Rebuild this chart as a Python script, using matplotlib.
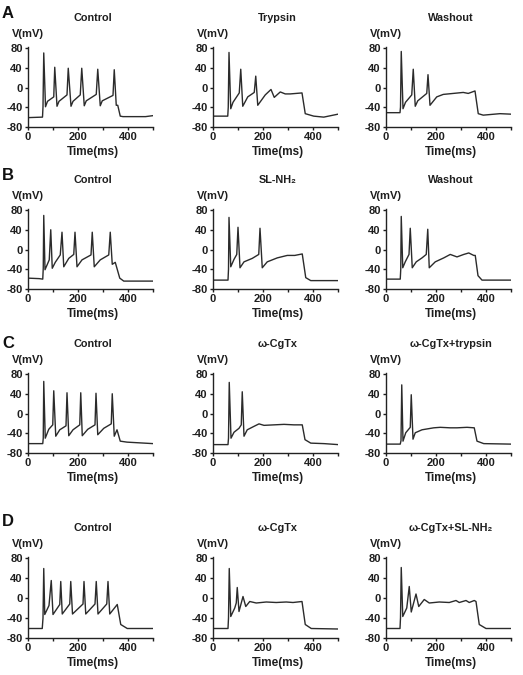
import matplotlib
matplotlib.use("Agg")
import matplotlib.pyplot as plt

plt.rcParams['font.family'] = ['Liberation Sans', 'DejaVu Sans']
plt.rcParams['font.weight'] = 'bold'

# ---------------- data (time ms, membrane potential mV) ----------------
row_letters = ["A", "B", "C", "D"]
titles = [["Control", "Trypsin", "Washout"],
          ["Control", "SL-NH\u2082", "Washout"],
          ["Control", "\u03c9-CgTx", "\u03c9-CgTx+trypsin"],
          ["Control", "\u03c9-CgTx", "\u03c9-CgTx+SL-NH\u2082"]]

# Row A
a1_t = [0, 58, 60, 63, 70, 78, 103, 107, 116, 124, 156, 161, 172, 180, 209, 215, 225, 233, 273, 279, 289, 297, 340, 345, 353, 359, 369, 380, 470, 500]
a1_v = [-61, -60, -39, 70, -39, -28, -19, 41, -38, -28, -15, 39, -38, -28, -15, 39, -37, -27, -14, 37, -37, -27, -16, 36, -36, -36, -58, -59, -59, -57]
a2_t = [0, 59, 61, 64, 71, 80, 105, 111, 119, 139, 165, 171, 179, 209, 232, 245, 269, 289, 309, 356, 369, 403, 443, 500]
a2_v = [-58, -58, -40, 71, -43, -30, -11, 37, -38, -19, -10, 23, -36, -15, -4, -20, -9, -13, -13, -11, -53, -58, -60, -54]
a3_t = [0, 56, 58, 61, 68, 78, 103, 109, 117, 127, 163, 168, 176, 203, 229, 269, 309, 329, 356, 369, 389, 456, 500]
a3_v = [-51, -51, -40, 73, -43, -30, -15, 37, -38, -27, -12, 26, -36, -19, -14, -12, -10, -12, -7, -53, -56, -53, -54]

# Row B
b1_t = [0, 45, 59, 61, 63, 68, 85, 91, 97, 109, 129, 136, 143, 163, 183, 188, 196, 216, 252, 257, 265, 289, 323, 329, 337, 349, 367, 383, 500]
b1_v = [-58, -59, -60, -38, 69, -41, -21, 40, -38, -26, -11, 35, -35, -18, -10, 35, -35, -21, -11, 35, -35, -21, -11, 35, -30, -26, -58, -64, -64]
b2_t = [0, 60, 62, 64, 71, 84, 95, 100, 108, 124, 157, 183, 188, 197, 217, 257, 297, 327, 357, 371, 391, 500]
b2_v = [-62, -62, -40, 65, -35, -20, -10, 45, -37, -25, -18, -10, 43, -37, -25, -17, -12, -12, -9, -57, -63, -63]
b3_t = [0, 57, 59, 61, 67, 77, 92, 97, 105, 121, 144, 161, 167, 173, 197, 231, 257, 284, 311, 331, 351, 357, 368, 384, 500]
b3_v = [-60, -60, -40, 67, -37, -25, -10, 43, -37, -25, -17, -10, 41, -37, -25, -17, -10, -15, -10, -7, -12, -12, -53, -62, -62]

# Row C
c1_t = [0, 59, 61, 63, 69, 83, 99, 103, 111, 127, 152, 156, 163, 180, 207, 211, 217, 239, 268, 272, 279, 303, 333, 337, 345, 356, 369, 396, 500]
c1_v = [-61, -61, -50, 65, -50, -32, -23, 46, -46, -33, -25, 42, -45, -33, -23, 42, -45, -32, -23, 41, -43, -30, -21, 40, -46, -33, -56, -58, -61]
c2_t = [0, 60, 62, 65, 72, 84, 104, 113, 117, 124, 137, 164, 184, 204, 244, 284, 324, 357, 368, 391, 444, 500]
c2_v = [-63, -63, -50, 63, -50, -38, -30, -23, 44, -46, -33, -26, -21, -24, -23, -22, -23, -23, -53, -60, -61, -63]
c3_t = [0, 57, 60, 63, 68, 79, 97, 101, 108, 117, 144, 191, 217, 257, 284, 324, 353, 364, 391, 500]
c3_v = [-62, -62, -55, 58, -56, -39, -28, 38, -52, -39, -33, -29, -28, -29, -29, -28, -29, -56, -61, -62]

# Row D
d1_t = [0, 57, 60, 63, 67, 84, 93, 100, 127, 131, 137, 167, 171, 178, 220, 224, 231, 268, 273, 280, 315, 320, 327, 357, 371, 397, 500]
d1_v = [-61, -61, -40, 59, -33, -15, 35, -33, -13, 33, -32, -12, 33, -32, -12, 33, -32, -12, 33, -32, -12, 33, -32, -13, -53, -61, -61]
d2_t = [0, 60, 62, 65, 71, 87, 93, 97, 104, 120, 131, 147, 173, 213, 253, 293, 320, 356, 369, 393, 500]
d2_v = [-61, -61, -40, 59, -37, -20, -10, 21, -27, 3, -17, -7, -10, -8, -9, -8, -9, -7, -53, -61, -62]
d3_t = [0, 56, 58, 61, 67, 83, 93, 101, 120, 131, 153, 173, 213, 253, 280, 293, 320, 333, 353, 360, 373, 400, 500]
d3_v = [-61, -61, -40, 61, -37, -20, 23, -28, 8, -17, -3, -10, -8, -9, -5, -9, -5, -9, -5, -7, -53, -61, -61]

traces = [[(a1_t, a1_v), (a2_t, a2_v), (a3_t, a3_v)],
          [(b1_t, b1_v), (b2_t, b2_v), (b3_t, b3_v)],
          [(c1_t, c1_v), (c2_t, c2_v), (c3_t, c3_v)],
          [(d1_t, d1_v), (d2_t, d2_v), (d3_t, d3_v)]]

x_ticks = [0, 100, 200, 300, 400, 500]
x_ticklabels = ["0", "", "200", "", "400", ""]
y_ticks = [-80, -40, 0, 40, 80]

# ---------------- layout (pixels) ----------------
W, H = 523, 675
fig = plt.figure(figsize=(W / 100, H / 100), dpi=100)

col_x0 = [28, 213, 386]
ax_w = 125
row_y80 = [48, 210, 374, 558]
row_ym80 = [127, 289, 453, 638]
letter_y = [14, 176, 343, 522]
YTOP = 85
TXT = "#1e1e1e"

for r in range(4):
    pxmv = (row_ym80[r] - row_y80[r]) / 160.0
    top = row_y80[r] - (YTOP - 80) * pxmv
    bottom = row_ym80[r]
    for c in range(3):
        left = col_x0[c]
        ax = fig.add_axes([left / W, 1 - bottom / H, ax_w / W, (bottom - top) / H])
        t, v = traces[r][c]
        ax.plot(t, v, color="#2b2b2b", lw=1.0, solid_joinstyle="round")
        ax.set_xlim(0, 500)
        ax.set_ylim(-80, YTOP)
        ax.set_xticks(x_ticks)
        ax.set_xticklabels(x_ticklabels)
        ax.set_yticks(y_ticks)
        ax.set_yticklabels([str(y) for y in y_ticks])
        for s in ["top", "right"]:
            ax.spines[s].set_visible(False)
        for s in ["left", "bottom"]:
            ax.spines[s].set_linewidth(1.0)
            ax.spines[s].set_color("#222222")
        ax.spines["left"].set_bounds(-80, 82)
        ax.tick_params(axis="both", direction="out", length=2.5, width=1.0,
                       pad=1.2, labelsize=8, colors=TXT)
        for lab in ax.get_xticklabels() + ax.get_yticklabels():
            lab.set_fontweight("bold")
        ax.patch.set_alpha(0)
        fig.text((left + ax_w / 2 + 2) / W, 1 - (row_y80[r] - 30) / H, titles[r][c],
                 ha="center", va="center", fontsize=7.8, fontweight="bold", color=TXT)
        fig.text((left - 16) / W, 1 - (row_y80[r] - 14) / H, "V(mV)",
                 ha="left", va="center", fontsize=8, fontweight="bold", color=TXT)
        fig.text((left + ax_w / 2 + 2) / W, 1 - (bottom + 25) / H, "Time(ms)",
                 ha="center", va="center", fontsize=8.5, fontweight="bold", color=TXT)
    fig.text(2 / W, 1 - letter_y[r] / H, row_letters[r], ha="left", va="center",
             fontsize=12, fontweight="bold", color="#111111")

fig.savefig("out.png", dpi=100)
